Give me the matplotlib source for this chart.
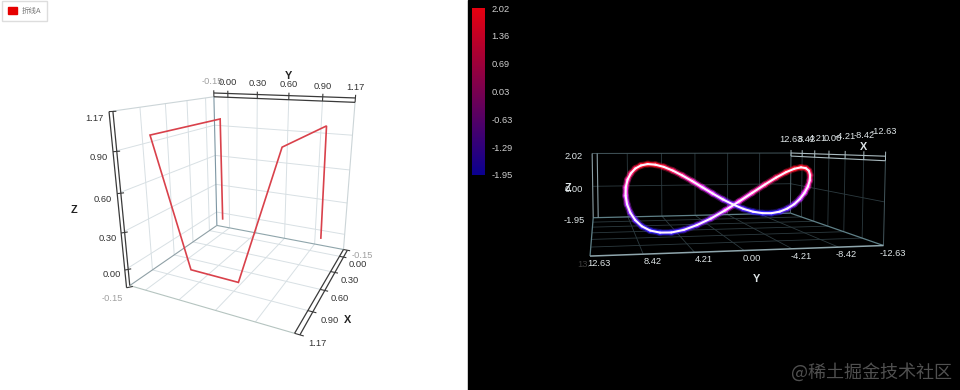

import numpy as np, matplotlib
matplotlib.use('Agg')
import matplotlib.pyplot as plt
from matplotlib.colors import LinearSegmentedColormap, Normalize
from matplotlib.cm import ScalarMappable
from matplotlib.patches import Patch, Rectangle
from mpl_toolkits.mplot3d import proj3d
from mpl_toolkits.mplot3d.art3d import Line3DCollection

plt.rcParams['font.family'] = ['Liberation Sans', 'Noto Sans CJK SC', 'DejaVu Sans']

series_name = '折线A'
line_x = [-0.01, 0.09, 1.03, 0.99, 1.00, 1.03, 0.09, 0.02]
line_y = [0.00, 0.05, 0.03, 0.29, 0.69, 1.00, 1.01, 1.00]
line_z = [0, 1, 1, 0, 0, 1, 1, 0]
left_lim = (-0.15, 1.17)
left_ticks = [0.0, 0.3, 0.6, 0.9]

curve_x = [8.06, 7.98, 7.75, 7.37, 6.84, 6.18, 5.39, 4.5, 3.51, 2.44, 1.31, 0.14, -1.05, -2.24, -3.4, -4.53, -5.6, -6.59, -7.49, -8.27, -8.94, -9.46, -9.85, -10.08, -10.16, -10.08, -9.85, -9.46, -8.94, -8.27, -7.49, -6.59, -5.6, -4.53, -3.4, -2.24, -1.05, 0.14, 1.31, 2.44, 3.51, 4.5, 5.39, 6.18, 6.84, 7.37, 7.75, 7.98, 8.06]
curve_y = [-0.12, 1.1, 2.31, 3.47, 4.57, 5.59, 6.52, 7.33, 8.01, 8.55, 8.95, 9.19, 9.27, 9.19, 8.95, 8.55, 8.01, 7.33, 6.52, 5.59, 4.57, 3.47, 2.31, 1.1, -0.12, -1.35, -2.56, -3.72, -4.82, -5.84, -6.77, -7.58, -8.26, -8.8, -9.2, -9.44, -9.52, -9.44, -9.2, -8.8, -8.26, -7.58, -6.77, -5.84, -4.82, -3.72, -2.56, -1.35, -0.13]
curve_z = [0.01, 0.39, 0.74, 1.04, 1.27, 1.41, 1.46, 1.4, 1.25, 1.01, 0.71, 0.35, -0.03, -0.41, -0.76, -1.06, -1.29, -1.43, -1.47, -1.42, -1.27, -1.03, -0.73, -0.37, 0.01, 0.39, 0.74, 1.04, 1.27, 1.41, 1.46, 1.4, 1.25, 1.01, 0.71, 0.35, -0.03, -0.41, -0.76, -1.06, -1.29, -1.43, -1.47, -1.42, -1.27, -1.03, -0.73, -0.37, 0.01]

right_xy_lim = (-12.63, 12.63)
right_z_lim = (-1.95, 2.02)
right_xy_ticks = [12.63, 8.42, 4.21, 0.0, -4.21, -8.42, -12.63]
right_z_ticks = [2.02, 0.0, -1.95]
bar_ticks = [2.02, 1.36, 0.69, 0.03, -0.63, -1.29, -1.95]

FS = 6.7
TS = 7.8

fig = plt.figure(figsize=(9.6, 3.9), dpi=100, facecolor='white')
fig.add_artist(Rectangle((468/960, 0), 492/960, 1, transform=fig.transFigure, color='black', zorder=-10))

def make3d(xl, yl, zl, elev, azim, f, bx, by, s, ox, oy):
    k = 2108.108 / 390
    W = s / k
    x0 = ox - 0.51351 * W
    y0 = (390 - oy) - 0.51351 * W
    ax = fig.add_axes([x0/960, y0/390, W/960, W/390], projection='3d', computed_zorder=False)
    ax.set_proj_type('persp', focal_length=f)
    ax.set_xlim(*xl, view_margin=0); ax.set_ylim(*yl, view_margin=0); ax.set_zlim(*zl, view_margin=0)
    ax.view_init(elev=elev, azim=azim, roll=0)
    ax.set_box_aspect((bx, by, 1.0))
    ax.set_axis_off()
    ax.patch.set_visible(False)
    return ax

def seg(ax, a, b, c='k', lw=0.8, z=1):
    ax.plot([a[0], b[0]], [a[1], b[1]], [a[2], b[2]], color=c, lw=lw, zorder=z, clip_on=False, solid_capstyle='butt')

def label(ax, p, txt, dx=0, dy=0, color='#333333', size=FS, weight='normal', ha='center'):
    u, v, _ = proj3d.proj_transform(p[0], p[1], p[2], ax.get_proj())
    ax.annotate(txt, xy=(u, v), xytext=(dx, dy), textcoords='offset pixels', ha=ha, va='center',
                color=color, fontsize=size, fontweight=weight, annotation_clip=False)

# ---------- left ----------
aL = make3d(left_lim, left_lim, left_lim, 17.4414, 25.7773, 0.26651, 1.01853, 1.00706, 1528.48, 246.04, 191.00)
lo, hi = left_lim
grid = '#d8e0e4'
for t in left_ticks:
    seg(aL, (t, lo, lo), (t, lo, hi), grid, .7)
    seg(aL, (lo, t, lo), (lo, t, hi), grid, .7)
    seg(aL, (lo, lo, t), (hi, lo, t), grid, .7)
    seg(aL, (lo, lo, t), (lo, hi, t), grid, .7)
    seg(aL, (t, lo, lo), (t, hi, lo), grid, .7)
    seg(aL, (lo, t, lo), (hi, t, lo), grid, .7)
seg(aL, (hi, lo, hi), (lo, lo, hi), '#ccd5d8', .8)
seg(aL, (lo, hi, hi), (lo, hi, lo), '#ccd5d8', .8)
seg(aL, (lo, lo, lo), (lo, lo, hi), '#7d96a3', .8, 2)
seg(aL, (lo, lo, lo), (lo, hi, lo), '#8fa5ab', .8, 2)
seg(aL, (lo, lo, lo), (hi, lo, lo), '#8fa0a6', .8, 2)
seg(aL, (hi, lo, lo), (hi, hi, lo), '#b5c4c0', .8, 2)
dark = '#3a3a3a'
seg(aL, (hi, lo, lo), (hi, lo, hi), dark, .9, 3)
seg(aL, (hi+.035, lo, lo), (hi+.035, lo, hi), dark, .9, 3)
seg(aL, (lo, lo, hi), (lo, hi, hi), dark, .9, 3)
seg(aL, (lo, lo, hi+.035), (lo, hi, hi+.035), dark, .9, 3)
seg(aL, (lo, hi, lo), (hi, hi, lo), dark, .9, 3)
seg(aL, (lo, hi+.035, lo), (hi, hi+.035, lo), dark, .9, 3)
ticks_all = [lo] + left_ticks + [hi]
for t in ticks_all:
    seg(aL, (hi+.035, lo, t), (hi, lo+.03, t), dark, .8, 3)
    seg(aL, (lo, t, hi), (lo, t, hi+.06), dark, .8, 3)
    seg(aL, (t, hi, lo), (t, hi+.06, lo), dark, .8, 3)
xl_dx = [18.5, 18, 19, 20, 22, 23]
xl_dy = [-6, -8, -9, -9, -10, -10]
zl_dx = [-17, -16, -17, -18, -18, -19]
for t, a, b, zdx in zip(ticks_all, xl_dx, xl_dy, zl_dx):
    txt = '%.2f' % t
    c = '#a0a0a0' if t == lo else '#333333'
    label(aL, (lo, t, hi), txt, -1.5 if t == lo else 0, 15, c)
    label(aL, (t, hi, lo), txt, a, b, c)
    label(aL, (hi, lo, t), txt, zdx, -13 if t == lo else -7, c)
label(aL, (lo, .6, hi), 'Y', 0, 24, '#222222', TS, 'bold')
label(aL, (.9, hi, lo), 'X', 40, -9, '#222222', TS, 'bold')
label(aL, (hi, lo, .6), 'Z', -47, -18, '#222222', TS, 'bold')
aL.plot(line_x, line_y, line_z, color='#d9414b', lw=1.2, zorder=5, clip_on=False, solid_joinstyle='miter')

fig.legend(handles=[Patch(facecolor='#e60000', edgecolor='#e60000', label=series_name)],
           loc='upper left', bbox_to_anchor=(2/960, 1-1/390), bbox_transform=fig.transFigure,
           prop={'size': 5.4, 'family': ['Noto Sans CJK SC', 'DejaVu Sans']}, labelcolor='#777777',
           fancybox=False, edgecolor='#dddddd', framealpha=1, borderaxespad=0,
           handlelength=1.2, handleheight=1.2, handletextpad=.7, borderpad=.75)

# ---------- right ----------
aR = make3d(right_xy_lim, right_xy_lim, right_z_lim, 4.5078, 168.75, 0.31514, 3.23239, 3.21853, 1837.235, 714.646, 192.170)
lo, hi = right_xy_lim
zl, zh = right_z_lim
g = '#2c3a3f'
for t in right_xy_ticks[1:-1]:
    seg(aR, (hi, t, zl), (hi, t, zh), g, .6)
    seg(aR, (t, lo, zl), (t, lo, zh), g, .6)
    seg(aR, (t, lo, zl), (t, hi, zl), g, .6)
    seg(aR, (lo, t, zl), (hi, t, zl), g, .6)
seg(aR, (hi, lo, 0), (hi, hi, 0), g, .6)
seg(aR, (hi, lo, 0), (lo, lo, 0), g, .6)
seg(aR, (hi, hi, zh), (hi, lo, zh), '#43565c', .7)
seg(aR, (lo, lo, zh), (lo, lo, zl), '#43565c', .7)
seg(aR, (hi, lo, zl), (hi, lo, zh), '#50666c', .7)
seg(aR, (hi, hi, zl), (hi, lo, zl), '#5f8088', .9, 2)
seg(aR, (hi, lo, zl), (lo, lo, zl), '#5f8088', .9, 2)
seg(aR, (hi, hi, zl), (lo, hi, zl), '#5f8088', .9, 2)
seg(aR, (lo, hi, zl), (lo, lo, zl), '#8fa6ad', 1.1, 3)
ax_c = '#8a9ea5'
seg(aR, (hi, hi, zl), (hi, hi, zh), ax_c, .8, 3)
seg(aR, (hi, hi-.6, zl), (hi, hi-.6, zh), ax_c, .8, 3)
seg(aR, (hi, lo, zh), (lo, lo, zh), '#aabbc0', .8, 3)
seg(aR, (hi, lo, zh-.2), (lo, lo, zh-.2), '#aabbc0', .8, 3)
for t in right_xy_ticks:
    seg(aR, (t, lo, zh-.2), (t, lo, zh+.2), '#aabbc0', .7, 3)
lc = '#dfe6e8'
xdx = [0, 4, 3, 4, 0, 0, -2]
xdy = [14, 14, 15, 16, 18, 20, 25]
ydx = [9, 9, 9, 8, 9, 8, 9]
for t, dx0, dy_, dx_ in zip(right_xy_ticks, xdx, xdy, ydx):
    txt = '%.2f' % t
    label(aR, (t, lo, zh), txt, dx0, dy_, lc)
    label(aR, (lo, t, zl), txt, dx_, -7.5, lc)
label(aR, (lo, hi, zl), '13.', -6, -8, '#3c3c3c')
for t in right_z_ticks:
    label(aR, (hi, hi, t), '%.2f' % t, -19, -3, lc)
label(aR, (hi, hi, 0), 'Z', -25, -2, lc, TS, 'bold')
label(aR, (lo, 0, zl), 'Y', 12, -28, lc, TS, 'bold')
label(aR, (-6, lo, zh), 'X', 11, 8, lc, TS, 'bold')

pts = np.c_[curve_x, curve_y, curve_z]
segs = np.stack([pts[:-1], pts[1:]], axis=1)
mid = (pts[:-1, 2] + pts[1:, 2]) / 2
glow = LinearSegmentedColormap.from_list('glow', ['#2222ff', '#ff33ff', '#ff1111'])
for lw_, al, zo in ((5.0, .28, 6), (3.2, .9, 7)):
    lc3 = Line3DCollection(segs, cmap=glow, norm=Normalize(-1.6, 1.6), linewidths=lw_, alpha=al, zorder=zo, capstyle='round')
    lc3.set_array(mid)
    aR.add_collection3d(lc3)
aR.add_collection3d(Line3DCollection(segs, colors='#fff4ff', linewidths=1.5, zorder=8, capstyle='round'))

# colour bar
cax = fig.add_axes([472/960, 1-175/390, 13/960, 167/390])
bar = LinearSegmentedColormap.from_list('bar', ['#0a0090', '#e6000f'])
cb = fig.colorbar(ScalarMappable(Normalize(right_z_lim[0], right_z_lim[1]), bar), cax=cax, ticks=bar_ticks)
cb.ax.set_yticklabels(['%.2f' % t for t in bar_ticks], color='#cfcfcf', fontsize=FS)
cb.ax.tick_params(length=0, pad=4.5)
cb.outline.set_visible(False)

fig.text(951.5/960, 1-372/390, '@稀土掘金技术社区', ha='right', va='center', fontsize=13, color='#505050',
         family=['Noto Sans CJK SC', 'DejaVu Sans'])
fig.savefig('out.png', dpi=100)
